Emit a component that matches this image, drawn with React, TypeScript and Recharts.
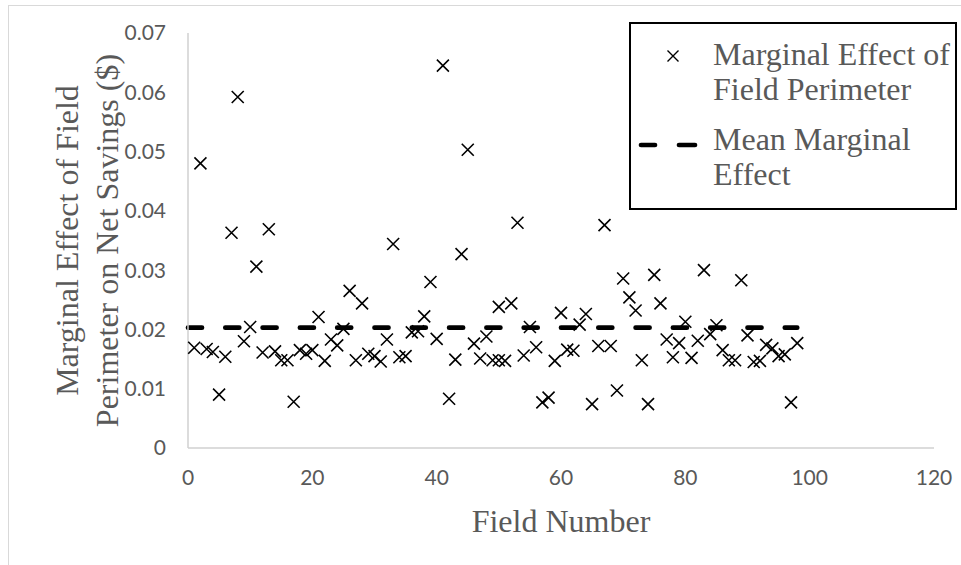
import { ScatterChart, Scatter, XAxis, YAxis, ReferenceLine } from 'recharts'

// Field number for each marker (field 50 shows two markers in the source chart)
const fields = [
  1, 2, 3, 4, 5, 6, 7, 8, 9, 10, 11, 12, 13, 14, 15, 16, 17, 18, 19, 20,
  21, 22, 23, 24, 25, 26, 27, 28, 29, 30, 31, 32, 33, 34, 35, 36, 37, 38, 39, 40,
  41, 42, 43, 44, 45, 46, 47, 48, 49, 50, 50, 51, 52, 53, 54, 55, 56, 57, 58, 59,
  60, 61, 62, 63, 64, 65, 66, 67, 68, 69, 70, 71, 72, 73, 74, 75, 76, 77, 78, 79,
  80, 81, 82, 83, 84, 85, 86, 87, 88, 89, 90, 91, 92, 93, 94, 95, 96, 97, 98,
]

// Marginal effect of field perimeter on net savings ($)
const effects = [
  0.0169, 0.048, 0.0167, 0.0162, 0.009, 0.0154, 0.0363, 0.0592, 0.018, 0.0204,
  0.0306, 0.0161, 0.0369, 0.0163, 0.0148, 0.0148, 0.0078, 0.0165, 0.0159, 0.0165,
  0.0221, 0.0147, 0.0183, 0.0173, 0.0201, 0.0265, 0.0148, 0.0244, 0.0159, 0.0155,
  0.0146, 0.0183, 0.0344, 0.0153, 0.0155, 0.0195, 0.0197, 0.0222, 0.028, 0.0184,
  0.0645, 0.0083, 0.0149, 0.0327, 0.0503, 0.0176, 0.0151, 0.0188, 0.0148, 0.0238,
  0.0148, 0.0147, 0.0244, 0.038, 0.0156, 0.0204, 0.017, 0.0077, 0.0085, 0.0147,
  0.0228, 0.0166, 0.0164, 0.0208, 0.0226, 0.0074, 0.0172, 0.0376, 0.0172, 0.0097,
  0.0286, 0.0254, 0.0232, 0.0148, 0.0074, 0.0292, 0.0244, 0.0183, 0.0153, 0.0177,
  0.0213, 0.0152, 0.0181, 0.03, 0.0192, 0.0207, 0.0165, 0.0148, 0.0148, 0.0283,
  0.019, 0.0145, 0.0147, 0.0174, 0.0168, 0.0155, 0.0158, 0.0077, 0.0177,
]

const MEAN_EFFECT = 0.0203
const MEAN_FROM = 0
const MEAN_TO = 98

const xTicks = [0, 20, 40, 60, 80, 100, 120]
const yTicks = [0, 0.01, 0.02, 0.03, 0.04, 0.05, 0.06, 0.07]

const AXIS = '#d0d0d0'
const TEXT = '#595959'
const SERIF = '"Liberation Serif", "Times New Roman", serif'
const SANS = 'Lato, "Noto Sans", sans-serif'
const TITLE_SIZE = 32

const points = fields.map((f, i) => ({ field: f, effect: effects[i] }))

// Excel-style "x" marker
function Cross(props: any) {
  const { cx, cy } = props
  if (cx == null || cy == null) return null
  const s = 6
  return (
    <path
      d={`M${cx - s},${cy - s}L${cx + s},${cy + s}M${cx - s},${cy + s}L${cx + s},${cy - s}`}
      stroke="#000"
      strokeWidth={1.6}
      fill="none"
    />
  )
}

// two-line rotated y title
function YTitle(props: any) {
  const vb = props.viewBox || {}
  const cy = vb.y + vb.height / 2
  const x = 78
  return (
    <text
      transform={`rotate(-90 ${x} ${cy})`}
      x={x}
      y={cy}
      textAnchor="middle"
      fontFamily={SERIF}
      fontSize={TITLE_SIZE}
      fill={TEXT}
    >
      <tspan x={x} dy={0}>Marginal Effect of Field</tspan>
      <tspan x={x} dy={40}>Perimeter on Net Savings ($)</tspan>
    </text>
  )
}

function XTitle(props: any) {
  const vb = props.viewBox || {}
  return (
    <text
      x={vb.x + vb.width / 2}
      y={532}
      textAnchor="middle"
      fontFamily={SERIF}
      fontSize={TITLE_SIZE}
      fill={TEXT}
    >
      Field Number
    </text>
  )
}

const fmtY = (v: number) => (v === 0 ? '0' : v.toFixed(2))

function LegendBox() {
  const text = {
    fontFamily: SERIF,
    fontSize: TITLE_SIZE,
    color: TEXT,
    lineHeight: '35px',
    whiteSpace: 'nowrap' as const,
  }
  return (
    <div
      style={{
        position: 'absolute',
        left: 629,
        top: 22,
        width: 328,
        height: 188,
        border: '2px solid #000',
        boxSizing: 'border-box',
        background: '#fff',
      }}
    >
      <svg style={{ position: 'absolute', left: 33, top: 23 }} width={18} height={18}>
        <path d="M3.5,3.5L14.5,14.5M3.5,14.5L14.5,3.5" stroke="#000" strokeWidth={1.4} />
      </svg>
      <div style={{ ...text, position: 'absolute', left: 82, top: 13 }}>
        Marginal Effect of
        <br />
        Field Perimeter
      </div>
      <svg style={{ position: 'absolute', left: 2, top: 115 }} width={70} height={12}>
        <line x1={8} y1={6} x2={22} y2={6} stroke="#000" strokeWidth={4.7} strokeLinecap="round" />
        <line x1={46} y1={6} x2={62} y2={6} stroke="#000" strokeWidth={4.7} strokeLinecap="round" />
      </svg>
      <div style={{ ...text, position: 'absolute', left: 82, top: 98 }}>
        Mean Marginal
        <br />
        Effect
      </div>
    </div>
  )
}

export default function App() {
  return (
    <div
      style={{
        position: 'absolute',
        left: 0,
        top: 0,
        width: 961,
        height: 565,
        background: '#fff',
        overflow: 'hidden',
      }}
    >
      <div
        style={{
          position: 'absolute',
          left: 8,
          top: 5,
          width: 1000,
          height: 600,
          borderTop: '1px solid #d9d9d9',
          borderLeft: '1px solid #d9d9d9',
        }}
      />
      <div style={{ position: 'absolute', left: 0, top: 0 }}>
        <ScatterChart width={961} height={565} margin={{ top: 33, right: 27, bottom: 57, left: 108 }}>
          <XAxis
            type="number"
            dataKey="field"
            domain={[0, 120]}
            ticks={xTicks}
            interval={0}
            height={60}
            axisLine={{ stroke: AXIS, strokeWidth: 1.5 }}
            tickLine={false}
            tickSize={0}
            tickMargin={22}
            tick={{ fontFamily: SANS, fontSize: 21, fill: TEXT }}
            label={<XTitle />}
          />
          <YAxis
            type="number"
            dataKey="effect"
            domain={[0, 0.07]}
            ticks={yTicks}
            interval={0}
            width={80}
            axisLine={{ stroke: AXIS, strokeWidth: 1.5 }}
            tickLine={false}
            tickSize={0}
            tickMargin={22}
            tickFormatter={fmtY}
            tick={{ fontFamily: SANS, fontSize: 21, fill: TEXT }}
            label={<YTitle />}
          />
          <ReferenceLine
            segment={[
              { x: MEAN_FROM, y: MEAN_EFFECT },
              { x: MEAN_TO, y: MEAN_EFFECT },
            ]}
            stroke="#000"
            strokeWidth={4.7}
            strokeDasharray="14 23.3"
            strokeLinecap="round"
            ifOverflow="visible"
          />
          <Scatter data={points} shape={Cross} isAnimationActive={false} />
        </ScatterChart>
      </div>
      <LegendBox />
    </div>
  )
}
